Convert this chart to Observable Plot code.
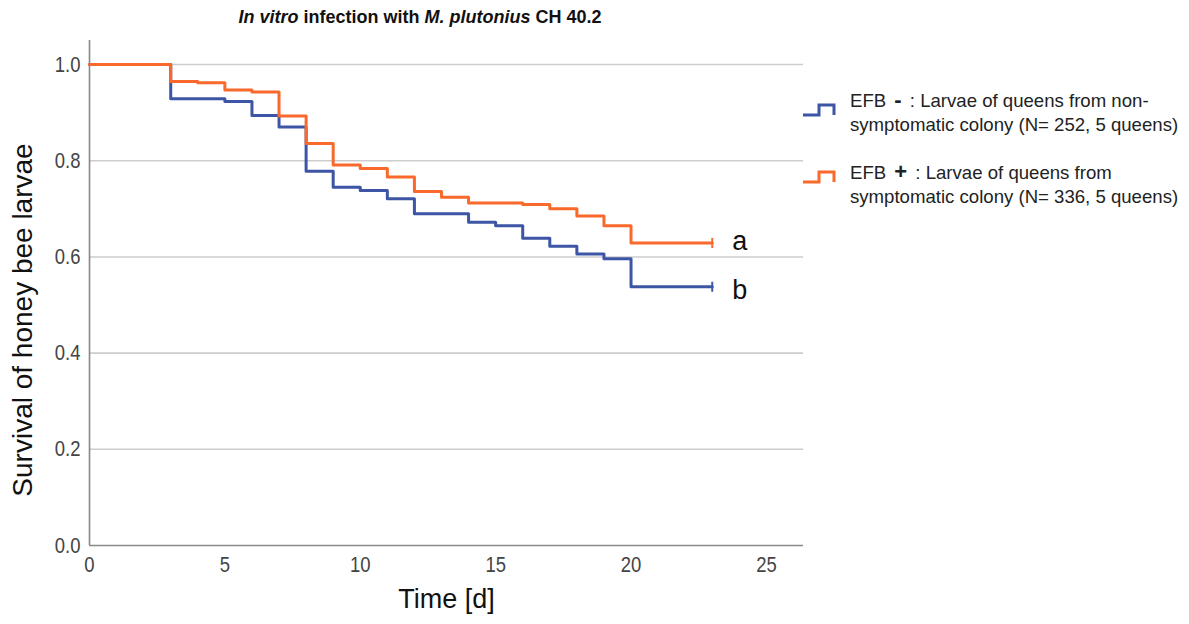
<!DOCTYPE html>
<html>
<head>
<meta charset="utf-8">
<script src="https://cdn.jsdelivr.net/npm/d3@7"></script>
<script src="https://cdn.jsdelivr.net/npm/@observablehq/plot@0.6"></script>
<style>
  html, body { margin: 0; padding: 0; background: #fff; }
  #wrap { position: relative; width: 1189px; height: 624px; overflow: hidden; font-family: "Liberation Sans", Arial, sans-serif; color: #111; }
  #title { position: absolute; left: 0; width: 840px; top: 7px; text-align: center; font-weight: bold; font-size: 18px; line-height: 20px; }
  .legtext { position: absolute; left: 850px; font-size: 18.6px; line-height: 24px; color: #222; white-space: nowrap; }
  .sym { font-size: 22px; font-weight: bold; padding: 0 3px; }
  .sw { position: absolute; left: 800px; }
  #chart { position: absolute; left: 0; top: 0; }
</style>
</head>
<body>
<div id="wrap">
  <div id="chart"></div>
  <div id="title"><i>In vitro</i> infection with <i>M. plutonius</i> CH 40.2</div>
  <svg class="sw" style="top:100px" width="40" height="20"><path d="M3,15H19V5H34V15" fill="none" stroke="#3d55a5" stroke-width="3"/></svg>
  <div class="legtext" style="top:88px">EFB <span class="sym">-</span> : Larvae of queens from non-<br>symptomatic colony (N= 252, 5 queens)</div>
  <svg class="sw" style="top:167px" width="40" height="20"><path d="M3,15H19V5H34V15" fill="none" stroke="#f9692b" stroke-width="3"/></svg>
  <div class="legtext" style="top:160px">EFB <span class="sym">+</span> : Larvae of queens from<br>symptomatic colony (N= 336, 5 queens)</div>
</div>
<script>
// Kaplan–Meier step values
const daysNeg = [0, 3, 5, 6, 7, 8, 9, 10, 11, 12, 14, 15, 16, 17, 18, 19, 20, 23];
const survNeg = [1.0, 0.929, 0.923, 0.894, 0.870, 0.778, 0.745, 0.738, 0.721, 0.690, 0.672, 0.665, 0.639, 0.622, 0.606, 0.596, 0.538, 0.538];
const daysPos = [0, 3, 4, 5, 6, 7, 8, 9, 10, 11, 12, 13, 14, 16, 17, 18, 19, 20, 23];
const survPos = [1.0, 0.965, 0.962, 0.947, 0.943, 0.893, 0.836, 0.791, 0.784, 0.766, 0.736, 0.724, 0.712, 0.709, 0.700, 0.685, 0.665, 0.629, 0.629];
const groupLabels = ["b", "a"]; // EFB- , EFB+
const xTicks = [0, 5, 10, 15, 20, 25];
const yTicks = [0.0, 0.2, 0.4, 0.6, 0.8, 1.0];
const gridTicks = [0.2, 0.4, 0.6, 0.8, 1.0];
const xLabel = "Time [d]";
const yLabel = "Survival of honey bee larvae";

const blue = "#3d55a5", orange = "#f9692b";
const neg = daysNeg.map((d, i) => ({day: d, surv: survNeg[i]}));
const pos = daysPos.map((d, i) => ({day: d, surv: survPos[i]}));
const endNeg = [{day: daysNeg[daysNeg.length - 1], surv: survNeg[survNeg.length - 1], color: blue, label: groupLabels[0]}];
const endPos = [{day: daysPos[daysPos.length - 1], surv: survPos[survPos.length - 1], color: orange, label: groupLabels[1]}];
const ends = endNeg.concat(endPos);
const censor = {draw(ctx, size) { const r = Math.sqrt(size / Math.PI); ctx.moveTo(0, -r); ctx.lineTo(0, r); }};

const chart = Plot.plot({
  width: 1189,
  height: 624,
  marginLeft: 89,
  marginRight: 386,
  marginTop: 40,
  marginBottom: 79,
  x: {domain: [0, 26.37]},
  y: {domain: [0, 1.05]},
  style: {fontFamily: "'Liberation Sans', Arial, sans-serif", background: "transparent", overflow: "visible"},
  marks: [
    Plot.ruleY(gridTicks, {stroke: "#cdcdcd", strokeWidth: 1.6}),
    Plot.ruleX([0], {stroke: "#888", strokeWidth: 1.6}),
    Plot.ruleY([0], {stroke: "#888", strokeWidth: 1.6}),
    Plot.axisY(yTicks, {tickSize: 0, tickPadding: 9, tickFormat: d3.format(".1f"), fontSize: 22, color: "#444", label: null}),
    Plot.axisX(xTicks, {tickSize: 0, tickPadding: 11, fontSize: 22, color: "#444", label: null}),
    Plot.text([xLabel], {frameAnchor: "bottom", dy: 62, fontSize: 27, fill: "#111"}),
    Plot.text([yLabel], {frameAnchor: "left", textAnchor: "middle", rotate: -90, dx: -66, dy: 27, fontSize: 28, fill: "#111"}),
    Plot.line(neg, {x: "day", y: "surv", curve: "step-after", stroke: blue, strokeWidth: 3}),
    Plot.line(pos, {x: "day", y: "surv", curve: "step-after", stroke: orange, strokeWidth: 3}),
    Plot.dot(ends, {x: "day", y: "surv", symbol: censor, r: 5, stroke: "color", fill: "none", strokeWidth: 2}),
    Plot.text(endPos, {x: "day", y: "surv", text: "label", textAnchor: "start", dx: 20, dy: -2, fontSize: 27, fill: "#111"}),
    Plot.text(endNeg, {x: "day", y: "surv", text: "label", textAnchor: "start", dx: 20, dy: 4, fontSize: 27, fill: "#111"})
  ]
});
document.getElementById("chart").appendChild(chart);

// condense the tick labels horizontally (the reference uses a narrow face)
d3.select(chart).selectAll("g[aria-label$='tick label'] text").each(function () {
  const t = d3.select(this);
  const x = +(t.attr("x") || 0);
  t.attr("x", x / 0.84).attr("transform", ((t.attr("transform") || "") + " scale(0.84,1)").trim());
});
</script>
</body>
</html>
